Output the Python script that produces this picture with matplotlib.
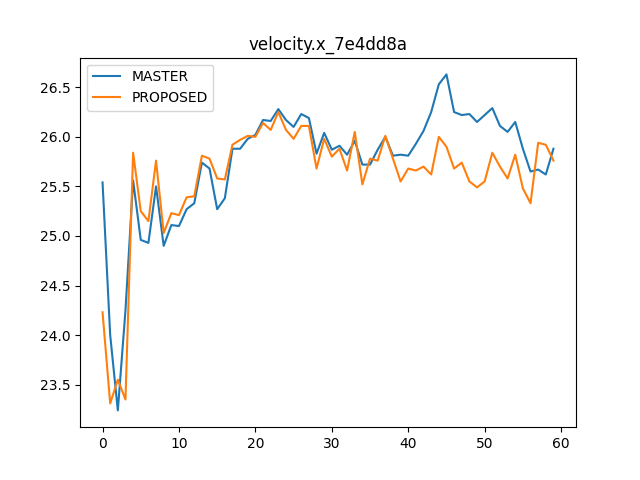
import matplotlib
matplotlib.use("Agg")
import matplotlib.pyplot as plt

# valores (60 iteraciones)
master = [
    25.54, 24.00, 23.24, 24.25, 25.56, 24.96, 24.93, 25.50, 24.90, 25.11,
    25.10, 25.27, 25.33, 25.74, 25.68, 25.27, 25.38, 25.88, 25.88, 25.98,
    26.02, 26.17, 26.16, 26.28, 26.17, 26.10, 26.23, 26.19, 25.83, 26.04,
    25.87, 25.91, 25.82, 25.96, 25.72, 25.72, 25.87, 26.00, 25.81, 25.82,
    25.81, 25.93, 26.06, 26.25, 26.53, 26.63, 26.25, 26.22, 26.23, 26.15,
    26.22, 26.29, 26.11, 26.05, 26.15, 25.88, 25.65, 25.67, 25.62, 25.88,
]
proposed = [
    24.23, 23.31, 23.55, 23.35, 25.84, 25.25, 25.15, 25.76, 25.03, 25.23,
    25.21, 25.39, 25.40, 25.81, 25.78, 25.58, 25.57, 25.92, 25.97, 26.01,
    26.00, 26.14, 26.07, 26.25, 26.07, 25.98, 26.11, 26.11, 25.68, 25.98,
    25.80, 25.88, 25.66, 26.05, 25.52, 25.78, 25.76, 26.01, 25.78, 25.55,
    25.68, 25.66, 25.70, 25.62, 26.00, 25.90, 25.68, 25.74, 25.55, 25.49,
    25.55, 25.84, 25.70, 25.58, 25.82, 25.48, 25.33, 25.94, 25.92, 25.76,
]

fig, ax = plt.subplots(figsize=(6.4, 4.8), dpi=100)
ax.plot(range(len(master)), master, label="MASTER")
ax.plot(range(len(proposed)), proposed, label="PROPOSED")
ax.set_title("velocity.x_7e4dd8a")
ax.legend(loc="upper left")

fig.savefig("out.png")
